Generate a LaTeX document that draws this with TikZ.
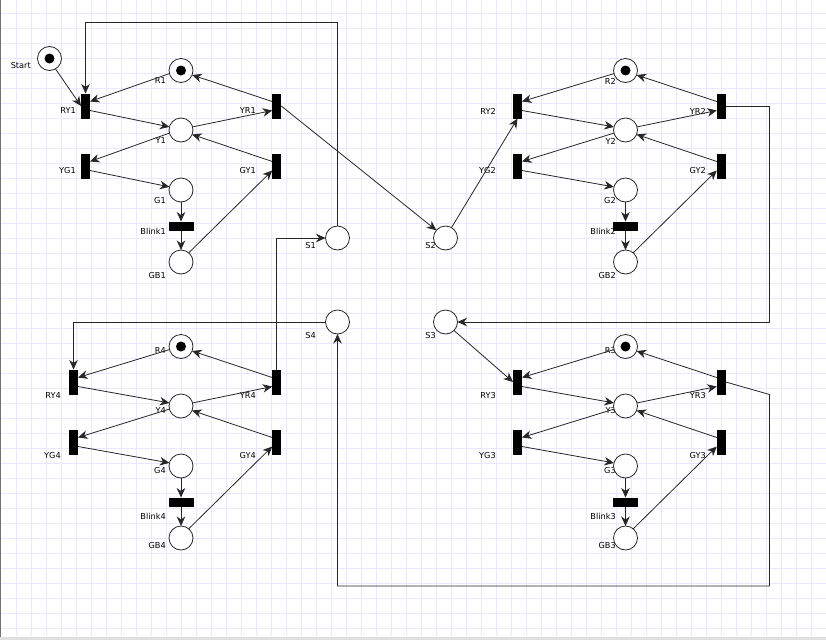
\documentclass[tikz,border=0pt]{standalone}
\usepackage{fontspec}
\setmainfont{DejaVu Sans}
\usetikzlibrary{arrows.meta}

\begin{document}
\begin{tikzpicture}[
    x=1pt, y=-1pt,
    place/.style={circle, draw=black!85, fill=white, line width=0.8pt, minimum size=24pt, inner sep=0pt, outer sep=0pt},
    token/.style={circle, fill=black, minimum size=10pt, inner sep=0pt, outer sep=0pt},
    vtrans/.style={rectangle, fill=black, minimum width=9pt, minimum height=25pt, inner sep=0pt, outer sep=0pt},
    htrans/.style={rectangle, fill=black, minimum width=25pt, minimum height=9pt, inner sep=0pt, outer sep=0pt},
    lbl/.style={anchor=east, inner sep=0pt, text=black, font=\fontsize{8.2}{10}\selectfont},
    arc/.style={-{Stealth[length=9.5pt, width=8.5pt, inset=3pt]}, draw=black!85, line width=0.8pt},
    gridline/.style={draw=blue!9, line width=0.6pt}
]
\useasboundingbox (0,0) rectangle (826,640);
% Grid paper
\foreach \gx in {16,31,...,826} \draw[gridline] (\gx,0) -- (\gx,636);
\foreach \gy in {13,28,...,628} \draw[gridline] (1,\gy) -- (826,\gy);
\fill[black!55] (0,0) rectangle (1.2,640);
\fill[black!12] (0,637) rectangle (826,640);
% Free labels
\node[lbl] (lStart) at (31,66) {Start};
\node[lbl] (lS1) at (316,246) {S1};
\node[lbl] (lS2) at (436,246) {S2};
\node[lbl] (lS3) at (436,336) {S3};
\node[lbl] (lS4) at (316,336) {S4};
% Free places
\node[place] (Start) at (49.5,58.5) {};
\node[token] (tStart) at (Start) {};
\node[place] (S1) at (337.5,238) {};
\node[place] (S2) at (445.5,238) {};
\node[place] (S3) at (445.5,322) {};
\node[place] (S4) at (337.5,322) {};
% One traffic light per pass
\foreach \i/\cx/\cy/\tx/\lx/\mx/\rx/\da/\db in {
    1/181/130/85.5/76/166/256/0/0,
    2/625.5/130/517.5/496/616/706/0/0,
    3/625.5/406/517.5/496/616/706/-6/9,
    4/181/406/73.5/61/166/256/-6/9} {
    % Labels
    \node[lbl] (lR\i) at (\mx,\cy-49+\da) {R\i};
    \node[lbl] (lY\i) at (\mx,\cy+11+\da) {Y\i};
    \node[lbl] (lG\i) at (\mx,\cy+71+\da) {G\i};
    \node[lbl] (lGB\i) at (\mx,\cy+146+\da) {GB\i};
    \node[lbl] (lBlink\i) at (\mx,\cy+101+\db) {Blink\i};
    \node[lbl] (lRY\i) at (\lx,\cy-19+\db) {RY\i};
    \node[lbl] (lYG\i) at (\lx,\cy+41+\db) {YG\i};
    \node[lbl] (lYR\i) at (\rx,\cy-19+\db) {YR\i};
    \node[lbl] (lGY\i) at (\rx,\cy+41+\db) {GY\i};
    % Places
    \node[place] (R\i) at (\cx,\cy-59.5) {};
    \node[token] (tR\i) at (R\i) {};
    \node[place] (Y\i) at (\cx,\cy) {};
    \node[place] (G\i) at (\cx,\cy+60) {};
    \node[place] (GB\i) at (\cx,\cy+132) {};
    % Transitions
    \node[vtrans] (RY\i) at (\tx,\cy-24) {};
    \node[vtrans] (YG\i) at (\tx,\cy+36) {};
    \node[vtrans] (YR\i) at (\cx+95.75,\cy-24) {};
    \node[vtrans] (GY\i) at (\cx+95.75,\cy+36) {};
    \node[htrans] (Blink\i) at (\cx,\cy+96) {};
    % Arcs
    \draw[arc] (R\i.195) -- (RY\i.45);
    \draw[arc] (RY\i.-45) -- (Y\i.165);
    \draw[arc] (Y\i.15) -- (YR\i.225);
    \draw[arc] (YR\i.135) -- (R\i.-22);
    \draw[arc] (Y\i.195) -- (YG\i.45);
    \draw[arc] (YG\i.-45) -- (G\i.165);
    \draw[arc] (G\i.south) -- (Blink\i.north);
    \draw[arc] (Blink\i.south) -- (GB\i.north);
    \draw[arc] (GB\i.50) -- (GY\i.225);
    \draw[arc] (GY\i.135) -- (Y\i.-22);
}
% Bends
\coordinate (topbend) at (85.5,22.5);
\coordinate (sidebend) at (769.5,322);
\coordinate (kneebend) at (769.5,394.5);
\coordinate (lowbend) at (769.5,586);
% Arcs between the lights
\draw[arc] (Start.-60) -- (RY1.west);
\draw[arc] (S1.north) |- (topbend) -- (RY1.north);
\draw[arc] (YR1.east) -- (S2.140);
\draw[arc] (S2.60) -- (RY2.south);
\draw[arc] (YR2.east) -| (sidebend) -- (S3.east);
\draw[arc] (S3.-45) -- (RY3.west);
\draw[arc] (YR3.east) -- (kneebend) -- (lowbend) -| (S4.south);
\draw[arc] (S4.west) -| (RY4.north);
\draw[arc] (YR4.north) |- (S1.west);
\end{tikzpicture}
\end{document}
